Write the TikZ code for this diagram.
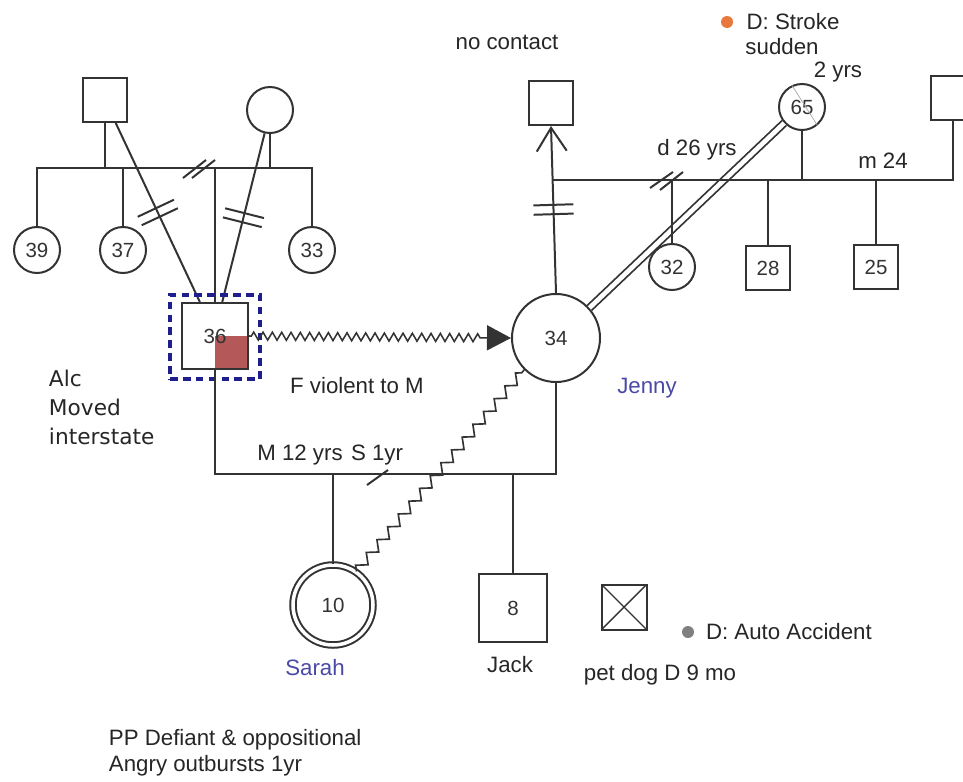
\documentclass[tikz,border=0pt]{standalone}
\usepackage{fontspec}
\setmainfont{Liberation Sans}
\newfontfamily\notefont{DejaVu Sans}
\usetikzlibrary{arrows.meta,positioning,calc,decorations.pathmorphing,decorations.markings}
\definecolor{gline}{HTML}{333333}
\definecolor{namecol}{HTML}{4A4AA6}
\definecolor{alcred}{HTML}{B4585A}
\definecolor{boxblue}{HTML}{1E1E8C}
\definecolor{strokedot}{HTML}{E8783C}

\tikzset{
  male/.style={draw, rectangle, minimum size=1.32cm, inner sep=0pt, font=\fontsize{17.5}{19}\selectfont},
  female/.style={draw, circle, minimum size=1.38cm, inner sep=0pt, font=\fontsize{17.5}{19}\selectfont},
  lbl/.style={font=\fontsize{19}{21}\selectfont, text=black!85, inner sep=0pt},
  note/.style={font=\notefont\fontsize{18.5}{20}\selectfont, text=black!85, inner sep=0pt, anchor=base west},
  cutoff/.style={postaction={decorate}, decoration={markings, mark=at position 0.5 with {
      \draw[-] (-0.14cm,-0.6cm) -- (-0.14cm,0.6cm);
      \draw[-] (0.14cm,-0.6cm) -- (0.14cm,0.6cm);}}},
}

\begin{document}
\begin{tikzpicture}[x=0.03cm, y=-0.03cm, line width=1.7pt, gline]
  \fill[white] (0,0) rectangle (963,781);
  \useasboundingbox (0,0) rectangle (963,781);

  % father's family of origin
  \node[male] (fa) at (105,100) {};
  \node[female] (mo) at (270,110) {};
  \node[female] (c39) at (37,250) {39};
  \node[female] (c37) at (123,250) {37};
  \node[female] (c33) at (312,250) {33};
  \node[male, minimum size=1.98cm,
    path picture={\fill[alcred] (path picture bounding box.center) rectangle (path picture bounding box.south east);}] (s36) at (215,336) {36};
  \coordinate (sib) at (0,168);
  \draw (c39.north) -- (c39.north |- sib) -- (c33.north |- sib) -- (c33.north);
  \draw (c37.north) -- (c37.north |- sib);
  \draw (fa.south) -- (fa.south |- sib);
  \draw (mo.south) -- (mo.south |- sib);
  \draw (s36.north) -- (s36.north |- sib);
  \draw (183,178) -- (206,160) (192,178) -- (215,160);
  \draw[cutoff] (fa.-65) -- (s36.114);
  \draw[cutoff] (mo.-103) -- (s36.78);
  \node[draw=boxblue, dash pattern=on 6.5pt off 4.5pt, line width=2.6pt,
    minimum width=2.7cm, minimum height=2.52cm] (fam36) at (215,337) {};

  % mother's family of origin
  \node[female, minimum size=2.64cm] (c34) at (556,338) {34};
  \node[male] (nc) at (551,103) {};
  \node[male] (rsq) at (953,98) {};
  \node[female] (g65) at (802,107) {65};
  \node[female] (c32) at (672,267) {32};
  \node[male] (c28) at (768,268) {28};
  \node[male] (c25) at (876,267) {25};
  \coordinate (jr) at (553,180);
  \draw[double, double distance=0.14cm, line width=1.5pt] (c34.42) -- (g65.222);
  \draw (jr) -- (jr -| rsq) -- (rsq.south);
  \draw (g65.south) -- (g65.south |- jr);
  \draw (c32.north) -- (c32.north |- jr);
  \draw (c28.north) -- (c28.north |- jr);
  \draw (c25.north) -- (c25.north |- jr);
  \draw (650,188) -- (673,172) (660,190) -- (683,172);
  \draw[gray!70, line width=0.6pt] (g65.115) -- (g65.-50);
  \draw[-{Straight Barb[length=0.7cm,width=0.9cm]}, cutoff] (c34.north) -- (nc.south);

  % nuclear family
  \node[female, double, double distance=3pt, minimum size=2.4cm] (sarah) at (333,605) {10};
  \node[male, minimum size=2.04cm] (jack) at (513,608) {8};
  \node[male, minimum size=1.35cm,
    path picture={\draw[line width=1.2pt] (path picture bounding box.north west) -- (path picture bounding box.south east)
      (path picture bounding box.north east) -- (path picture bounding box.south west);}] (dog) at (624,607) {};
  \coordinate (mj) at (0,474);
  \draw (s36.south) -- (s36.south |- mj) -- (c34.south |- mj) -- (c34.south);
  \draw (sarah.north) -- (sarah.north |- mj);
  \draw (jack.north) -- (jack.north |- mj);
  \draw (367,485) -- (388,470);
  \draw[-{Triangle[length=0.72cm,width=0.75cm]}, line width=1.3pt, decorate,
    decoration={zigzag, segment length=0.28cm, amplitude=0.12cm, pre length=2pt, post length=0.8cm}] (s36.east) -- (c34.west);
  \draw[line width=1.4pt, decorate, decoration={zigzag, segment length=0.5cm, amplitude=0.14cm}] (sarah.55) -- (c34.225);

  % labels
  \node[lbl] (nocon) at (507,42) {no contact};
  \node[circle, fill=strokedot, minimum size=0.36cm, inner sep=0pt] (odot) at (727,22) {};
  \node[lbl] (strk) at (793,22) {D: Stroke};
  \node[lbl] (sudden) at (782,47) {sudden};
  \node[lbl] (yrs2) at (838,72) {2 yrs};
  \node[lbl] (d26) at (697,150) {d 26 yrs};
  \node[lbl] (m24) at (883,161) {m 24};
  \node[lbl, text=namecol] (jenny) at (647,388) {Jenny};
  \node[lbl] (fviol) at (357,386) {F violent to M};
  \node[lbl] (m12) at (300,455) {M 12 yrs};
  \node[lbl] (s1) at (377,455) {S 1yr};
  \node[lbl, text=namecol] (sarahlbl) at (315,668) {Sarah};
  \node[lbl] (jacklbl) at (510,665) {Jack};
  \node[lbl] (doglbl) at (660,675) {pet dog D 9 mo};
  \node[circle, fill=gray, minimum size=0.36cm, inner sep=0pt] (gdot) at (688,632) {};
  \node[lbl, anchor=west] (auto) at (705,632) {D: Auto Accident};
  \node[note] (alc) at (48,386) {Alc};
  \node[note] (moved) at (48,415) {Moved};
  \node[note] (inter) at (48,444) {interstate};
  \node[lbl, anchor=base west] (pp) at (108,745) {PP Defiant \& oppositional};
  \node[lbl, anchor=base west] (angry) at (108,771) {Angry outbursts 1yr};
\end{tikzpicture}
\end{document}
